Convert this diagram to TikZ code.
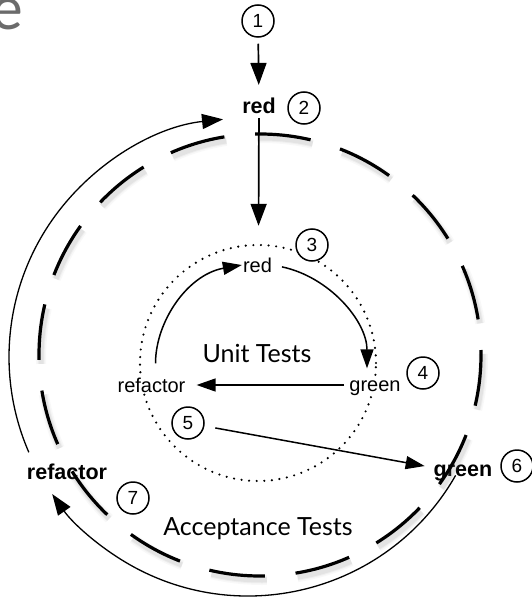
\documentclass[tikz,border=0pt]{standalone}
\usepackage{fontspec}
\setmainfont{Liberation Sans}
\newfontfamily\slidefont{Lato}
\usetikzlibrary{arrows.meta,calc}
\begin{document}
\begin{tikzpicture}[x=1pt,y=1pt,
  lbl/.style={font=\fontsize{20}{24}\selectfont, inner sep=1pt, fill=white},
  blbl/.style={font=\bfseries\fontsize{21.5}{26}\selectfont, inner sep=0pt},
  num/.style={circle, draw, line width=1.5pt, fill=white, minimum size=32pt, inner sep=0pt, font=\fontsize{19}{22}\selectfont},
  bigtxt/.style={font=\slidefont\fontsize{25}{30}\selectfont, inner sep=0pt},
  arr/.style={line width=1.7pt, -{Triangle[length=22pt,width=16pt]}},
  iarr/.style={line width=1.5pt, -{Triangle[length=19pt,width=13pt]}},
  tarr/.style={line width=1.3pt, -{Triangle[length=21pt,width=15pt]}},
  outerdash/.style={dash pattern=on 56pt off 30.79pt, dash phase=51pt}
]
\fill[white] (0,0) rectangle (532,-599);
\useasboundingbox (0,0) rectangle (532,-599);

% cut-off title letter
\node[font=\slidefont\fontsize{60}{60}\selectfont, text=black!58, anchor=east, inner sep=0pt] (ttl) at (23,-14) {e};

\coordinate (oc) at (260,-355);
\coordinate (tc) at (248,-357);

% bold outer labels
\node[blbl] (red2) at (259,-106) {red};
\node[blbl] (refO) at (67,-472) {refactor};
\node[blbl] (greenO) at (463,-473) {green};

% outer dashed circle with soft shadow
\foreach \w/\o in {10/0.05,7/0.07,5/0.1}
  \draw[gray, line width=\w pt, opacity=\o, outerdash] ($(oc)+(2,-4)$) circle (221);
\draw[line width=3.2pt, outerdash] (oc) circle (221);

% outer thin arcs
\coordinate (g6) at ($(tc)+(-29.7:239)$);
\coordinate (r7) at ($(tc)+(203.5:239)$);
\draw[tarr] (g6) arc[start angle=-29.7, end angle=-145, radius=239];
\draw[tarr] (r7) arc[start angle=203.5, end angle=96, radius=239];

% inner dotted circle
\node[circle, draw, minimum size=236pt, inner sep=0pt, line width=2.4pt, line cap=round, dash pattern=on 0pt off 7.6pt] (inner) at (258,-363) {};

% inner labels
\node[lbl] (redI) at (257.5,-265) {red};
\node[lbl] (greenI) at (375,-388) {green};
\node[lbl] (refI) at (151.5,-385) {refactor};
\node[bigtxt] (unit) at (257,-353) {Unit Tests};
\node[bigtxt] (acc) at (258,-529) {Acceptance Tests};

% numbers
\node[num] (c1) at (258,-21) {1};
\node[num] (c2) at (304,-108) {2};
\node[num] (c3) at (312,-245) {3};
\node[num] (c4) at (423,-373) {4};
\node[num] (c5) at (188,-423) {5};
\node[num] (c6) at (517,-466) {6};
\node[num] (c7) at (133,-498) {7};

% arrows
\draw[arr, shorten <=6pt, shorten >=13pt] (c1) -- (red2);
\draw[arr, shorten <=4pt, shorten >=18pt] (red2) -- (inner);
\draw[iarr, shorten <=9pt, shorten >=11pt] (redI.east) to[out=-12,in=90] ([xshift=-8pt]greenI.north);
\draw[iarr, shorten <=13pt] ([xshift=4pt]refI.north) to[out=90,in=190] (redI.west);
\draw[iarr, shorten <=4pt, shorten >=10pt] (refI.east -| greenI.west) -- (refI.east);
\draw[iarr, shorten <=11pt, shorten >=9pt] (c5) -- (greenO);
\end{tikzpicture}
\end{document}
